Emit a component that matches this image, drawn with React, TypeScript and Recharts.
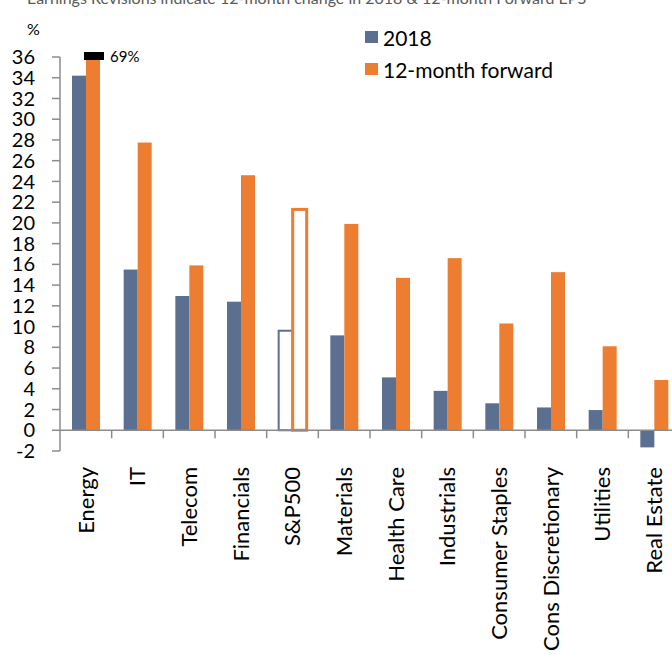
import React from 'react'
import { Bar, ComposedChart, Legend, ReferenceLine, XAxis, YAxis } from 'recharts'

const categories = [
  'Energy',
  'IT',
  'Telecom',
  'Financials',
  'S&P500',
  'Materials',
  'Health Care',
  'Industrials',
  'Consumer Staples',
  'Cons Discretionary',
  'Utilities',
  'Real Estate',
]
const change2018 = [34.2, 15.5, 12.95, 12.4, 9.6, 9.15, 5.1, 3.8, 2.6, 2.2, 1.95, -1.65]
const forward12m = [69, 27.75, 15.9, 24.6, 21.3, 19.9, 14.7, 16.6, 10.3, 15.25, 8.1, 4.85]
const yTicks = [36, 34, 32, 30, 28, 26, 24, 22, 20, 18, 16, 14, 12, 10, 8, 6, 4, 2, 0, -2]
const seriesNames = ['2018', '12-month forward']
const HOLLOW = 'S&P500'

const Y_MIN = -2
const Y_MAX = 36
const CHART_W = 680
const CHART_H = 655
const TOP = 57
const AXIS_W = 60
const X_AXIS_H = 204
const PLOT_H = CHART_H - TOP - X_AXIS_H
const PLOT_W = CHART_W - AXIS_W
const ZERO_Y = TOP + (PLOT_H * Y_MAX) / (Y_MAX - Y_MIN)

const BLUE = '#5B7090'
const ORANGE = '#ED7D31'
const AXIS = '#8c8c8c'
const FONT = 'Lato, "Noto Sans", sans-serif'

const data = categories.map((name, i) => ({
  name,
  y2018: change2018[i],
  forward: forward12m[i],
}))

const BarShape = (props: any) => {
  const { x, y, width, height, payload, fill, isForward } = props
  const hollow = payload.name === HOLLOW
  const top = height < 0 ? y + height : y
  const h = Math.abs(height)
  const broken = isForward && payload.forward > Y_MAX
  return (
    <g>
      {hollow ? (
        <rect x={x} y={top} width={width} height={h} fill="#fff" stroke={fill} strokeWidth={isForward ? 3 : 2} />
      ) : (
        <rect x={x} y={top} width={width} height={h} fill={fill} />
      )}
      {broken && (
        <>
          <rect x={x - 2} y={top - 5} width={width + 6} height={8} fill="#000" />
          <text x={x + width + 10} y={top + 5} fontSize={15} fontFamily={FONT} fill="#000">
            {payload.forward}%
          </text>
        </>
      )}
    </g>
  )
}

const CategoryTick = (props: any) => {
  const { x, y, payload, index } = props
  const half = payload.offset ?? PLOT_W / categories.length / 2
  const ly = y + 16
  return (
    <g>
      {index > 0 && (
        <line x1={x - half} x2={x - half} y1={ZERO_Y} y2={ZERO_Y + 8} stroke={AXIS} strokeWidth={1.5} />
      )}
      <text
        x={x}
        y={ly}
        transform={`rotate(-90, ${x}, ${ly})`}
        textAnchor="end"
        dy="0.35em"
        fontSize={22}
        fontFamily={FONT}
        fill="#000"
      >
        {payload.value}
      </text>
    </g>
  )
}

const LegendContent = (props: any) => {
  const items = [...(props.payload || [])].sort(
    (a: any, b: any) => seriesNames.indexOf(a.value) - seriesNames.indexOf(b.value),
  )
  return (
    <div style={{ fontFamily: FONT, fontSize: 21, color: '#000' }}>
      {items.map((p: any) => (
        <div key={p.value} style={{ display: 'flex', alignItems: 'center', height: 32 }}>
          <span style={{ width: 13, height: 12, background: p.color, marginRight: 5, display: 'inline-block' }} />
          {p.value}
        </div>
      ))}
    </div>
  )
}

export default function App() {
  return (
    <div style={{ position: 'fixed', left: 0, top: 0, width: 672, height: 655, overflow: 'hidden', background: '#fff' }}>
      <ComposedChart
        width={CHART_W}
        height={CHART_H}
        data={data}
        margin={{ top: TOP, right: 0, bottom: 0, left: 0 }}
        barGap={0}
        barSize={14}
      >
        <XAxis
          dataKey="name"
          height={X_AXIS_H}
          axisLine={false}
          tickLine={false}
          tickSize={0}
          tickMargin={0}
          interval={0}
          tick={<CategoryTick />}
        />
        <YAxis
          width={AXIS_W}
          domain={[Y_MIN, Y_MAX]}
          ticks={yTicks}
          interval={0}
          stroke={AXIS}
          axisLine={{ stroke: AXIS, strokeWidth: 1.5 }}
          tickLine={{ stroke: AXIS, strokeWidth: 1.5 }}
          tickSize={8}
          tickMargin={17}
          tick={{ fill: '#000', fontSize: 20, fontFamily: FONT }}
        />
        <Legend
          layout="vertical"
          align="center"
          verticalAlign="middle"
          content={<LegendContent />}
          wrapperStyle={{ left: 365, top: 21, width: 260, height: 'auto' }}
        />
        <Bar
          dataKey="y2018"
          name={seriesNames[0]}
          fill={BLUE}
          isAnimationActive={false}
          shape={(p: any) => <BarShape {...p} isForward={false} />}
        />
        <Bar
          dataKey={(d: any) => Math.min(d.forward, Y_MAX)}
          name={seriesNames[1]}
          fill={ORANGE}
          isAnimationActive={false}
          shape={(p: any) => <BarShape {...p} isForward />}
        />
        <ReferenceLine y={0} stroke={AXIS} strokeWidth={1.5} />
      </ComposedChart>
      <svg
        width={672}
        height={655}
        style={{ position: 'absolute', left: 0, top: 0, pointerEvents: 'none' }}
      >
        <text x={27} y={4} fontSize={16} fontFamily={FONT} fill="#595959">
          Earnings Revisions indicate 12-month change in 2018 &amp; 12-month Forward EPS
        </text>
        <text x={27} y={35} fontSize={16} fontFamily={FONT} fill="#000">
          %
        </text>
      </svg>
    </div>
  )
}
